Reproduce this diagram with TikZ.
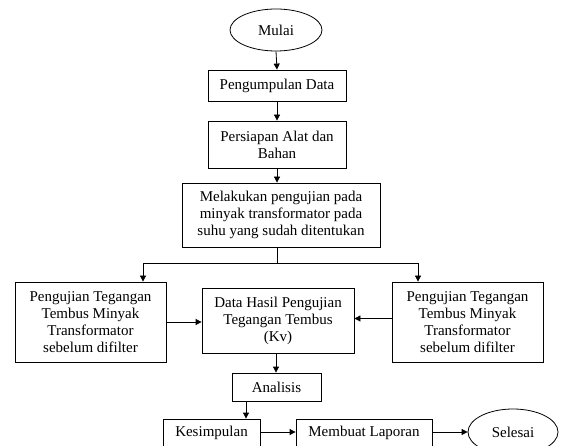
\documentclass[tikz,border=0pt]{standalone}
\usepackage{fontspec}
\setmainfont{Liberation Serif}
\usetikzlibrary{arrows.meta,shapes.geometric}
\begin{document}
\begin{tikzpicture}[x=1pt,y=-1pt,
  every node/.style={font=\fontsize{15}{17}\selectfont, inner sep=0pt, align=center},
  box/.style={draw, line width=0.8pt, rectangle},
  oval/.style={draw, line width=0.8pt, ellipse},
  conn/.style={line width=0.8pt, -{Triangle[length=6pt,width=6pt]}},
  plain/.style={line width=0.8pt}]
\useasboundingbox (0,0) rectangle (562,446);
\node[oval, minimum width=92pt, minimum height=42pt] (mulai) at (276,30) {Mulai};
\node[box, minimum width=138pt, minimum height=31pt] (kumpul) at (277,85.5) {Pengumpulan Data};
\node[box, minimum width=138pt, minimum height=47pt] (siap) at (277,144.5) {Persiapan Alat dan\\Bahan};
\node[box, minimum width=198pt, minimum height=64pt] (uji) at (281,215) {Melakukan pengujian pada\\minyak transformator pada\\suhu yang sudah ditentukan};
\node[box, minimum width=151pt, minimum height=80pt] (kiri) at (90.5,322) {Pengujian Tegangan\\Tembus Minyak\\Transformator\\sebelum difilter};
\node[box, minimum width=151pt, minimum height=80pt] (kanan) at (467.5,322) {Pengujian Tegangan\\Tembus Minyak\\Transformator\\sebelum difilter};
\node[box, minimum width=152pt, minimum height=65pt] (data) at (278,320.5) {Data Hasil Pengujian\\Tegangan Tembus\\(Kv)};
\node[box, minimum width=89pt, minimum height=28pt] (analisis) at (276.5,387) {Analisis};
\node[box, minimum width=97pt, minimum height=28pt] (simpul) at (211.5,433) {Kesimpulan};
\node[box, minimum width=136pt, minimum height=28pt] (lapor) at (364,433) {Membuat Laporan};
\node[oval, minimum width=90pt, minimum height=46pt] (selesai) at (513,432) {Selesai};
\coordinate (split) at (277,263);
\draw[conn] (mulai.south) -- (kumpul.north);
\draw[conn] (kumpul.south) -- (siap.north);
\draw[conn] (siap.south) -- (siap.south |- uji.north);
\draw[plain] (uji.south -| split) -- (split);
\draw[conn] (split) -| (kiri.north -| 143,0);
\draw[conn] (split) -| (kanan.north -| 418,0);
\draw[conn] (kiri.east) -- (kiri.east -| data.west);
\draw[conn] (kanan.west |- 0,318.5) -- (data.east |- 0,318.5);
\draw[conn] (data.south -| 276,0) -- (analisis.north -| 276,0);
\draw[conn] (analisis.south -| 246,0) -- (simpul.north -| 246,0);
\draw[conn] (simpul.east |- 0,432) -- (lapor.west |- 0,432);
\draw[conn] (lapor.east |- 0,432) -- (selesai.west |- 0,432);
\end{tikzpicture}
\end{document}
